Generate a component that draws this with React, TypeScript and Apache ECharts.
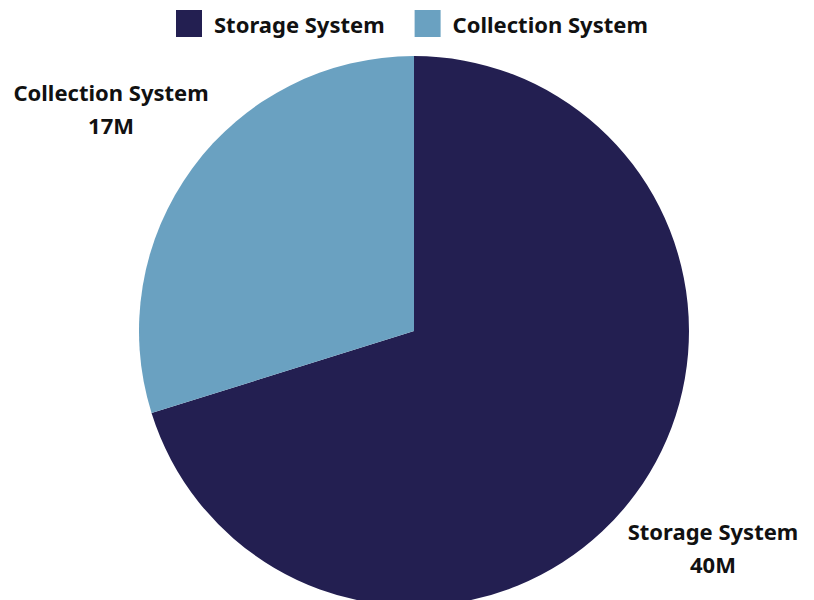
import React, { useEffect, useRef } from "react";
import * as echarts from "echarts";

const categories = ["Storage System", "Collection System"];
const values = [40, 17];
const valueLabels = ["40M", "17M"];
const colors = ["#231F51", "#6AA1C1"];

const FONT = "Noto Sans";

export default function App() {
  const ref = useRef<HTMLDivElement>(null);
  useEffect(() => {
    const chart = echarts.init(ref.current!, null, { renderer: "svg" });
    const data = categories.map((name, i) => ({
      name,
      value: values[i],
      itemStyle: { color: colors[i] },
    }));
    const labelOffsets: Record<number, number[]> = { 0: [-4, -6] };
    chart.setOption({
      animation: false,
      legend: {
        top: 5,
        left: 171,
        itemWidth: 26,
        itemHeight: 27,
        itemGap: 30,
        icon: "rect",
        textStyle: {
          fontFamily: FONT,
          fontWeight: "bold",
          fontSize: 22,
          color: "#111",
          padding: [0, 0, 0, 7],
        },
        data: categories.map((name, i) => ({ name, itemStyle: { color: colors[i] } })),
      },
      series: [
        {
          type: "pie",
          center: [414, 331],
          radius: [0, 275],
          startAngle: 90,
          clockwise: true,
          label: { show: false },
          labelLine: { show: false },
          data,
        },
        {
          type: "pie",
          center: [414, 331],
          radius: [300, 446],
          startAngle: 90,
          clockwise: true,
          silent: true,
          itemStyle: { color: "rgba(0,0,0,0)" },
          label: {
            show: true,
            position: "inside",
            formatter: (p: any) => `${p.name}\n${valueLabels[p.dataIndex]}`,
            fontFamily: FONT,
            fontWeight: "bold",
            fontSize: 22,
            lineHeight: 33,
            color: "#111",
            align: "center",
          },
          labelLine: { show: false },
          data: categories.map((name, i) => ({
            name,
            value: values[i],
            itemStyle: { color: "rgba(0,0,0,0)" },
            label: labelOffsets[i] ? { offset: labelOffsets[i] } : undefined,
          })),
        },
      ],
    });
    return () => chart.dispose();
  }, []);
  return (
    <div
      ref={ref}
      style={{ position: "absolute", left: 0, top: 0, width: 814, height: 600 }}
    />
  );
}
